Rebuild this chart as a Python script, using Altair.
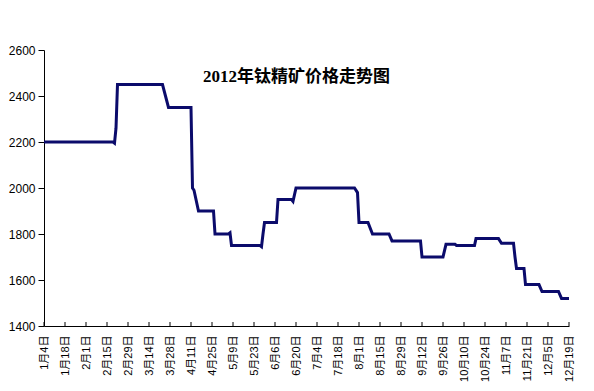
import altair as alt
import pandas as pd

# ---- data ----
dates = ["2012-01-04", "2012-02-19", "2012-02-20", "2012-02-21", "2012-02-22",
         "2012-03-23", "2012-03-27", "2012-04-11", "2012-04-12", "2012-04-13", "2012-04-16",
         "2012-04-26", "2012-04-27", "2012-05-06", "2012-05-07", "2012-05-08",
         "2012-05-27", "2012-05-28", "2012-05-29", "2012-05-30",
         "2012-06-07", "2012-06-08", "2012-06-17", "2012-06-18", "2012-06-20",
         "2012-07-29", "2012-07-31", "2012-08-01",
         "2012-08-07", "2012-08-10", "2012-08-21", "2012-08-23",
         "2012-09-11", "2012-09-12", "2012-09-26", "2012-09-28",
         "2012-10-04", "2012-10-05", "2012-10-17", "2012-10-18",
         "2012-11-02", "2012-11-04", "2012-11-12", "2012-11-13", "2012-11-14",
         "2012-11-19", "2012-11-20", "2012-11-29", "2012-12-01",
         "2012-12-12", "2012-12-14", "2012-12-19"]
prices = [2200, 2200, 2195, 2260, 2450,
          2450, 2350, 2350, 2000, 1990, 1900,
          1900, 1800, 1800, 1805, 1750,
          1750, 1745, 1800, 1850,
          1850, 1950, 1950, 1942, 2000,
          2000, 1980, 1850,
          1850, 1800, 1800, 1770,
          1770, 1700, 1700, 1755,
          1755, 1750, 1750, 1780,
          1780, 1760, 1760, 1700, 1650,
          1650, 1580, 1580, 1550,
          1550, 1520, 1520]

tick_dates = ["2012-01-04", "2012-01-18", "2012-02-01", "2012-02-15", "2012-02-29",
              "2012-03-14", "2012-03-28", "2012-04-11", "2012-04-25", "2012-05-09",
              "2012-05-23", "2012-06-06", "2012-06-20", "2012-07-04", "2012-07-18",
              "2012-08-01", "2012-08-15", "2012-08-29", "2012-09-12", "2012-09-26",
              "2012-10-10", "2012-10-24", "2012-11-07", "2012-11-21", "2012-12-05",
              "2012-12-19"]
y_ticks = [1400, 1600, 1800, 2000, 2200, 2400, 2600]
title_text = "2012年钛精矿价格走势图"

df = pd.DataFrame({"date": dates, "price": prices})
tick_df = pd.DataFrame({"date": tick_dates})


def dt(s):
    y, m, d = (int(v) for v in s.split("-"))
    return alt.DateTime(year=y, month=m, date=d, utc=True)


W, H = 525, 276
LABEL_FONT = "Liberation Sans, Noto Sans CJK SC"

x_scale = alt.Scale(type="utc", domain=[dt(tick_dates[0]), dt(tick_dates[-1])], nice=False)
y_scale = alt.Scale(domain=[1400, 2600], nice=False, zero=False)

x_axis = alt.Axis(values=[dt(s) for s in tick_dates],
                  labelExpr="(utcmonth(datum.value) + 1) + '月' + utcdate(datum.value) + '日'",
                  labelAngle=270, labelFont=LABEL_FONT, labelFontSize=11, labelColor="black",
                  labelPadding=9, labelFlush=False, labelOverlap=False,
                  ticks=False, tickSize=0, domainColor="black", domainWidth=1,
                  grid=False, title=None)
y_axis = alt.Axis(values=y_ticks, format="d", labelFont=LABEL_FONT, labelFontSize=12,
                  labelColor="black", labelPadding=3, tickSize=6, tickColor="black",
                  domainColor="black", domainWidth=1, grid=False, title=None,
                  labelFlush=False)

ticks = alt.Chart(tick_df).mark_rule(color="black", strokeWidth=1).encode(
    x=alt.X("date:T", scale=x_scale, axis=x_axis),
    y=alt.value(H),
    y2=alt.value(H - 4),
)

line = alt.Chart(df).mark_line(color="#0b0b6b", strokeWidth=3).encode(
    x=alt.X("date:T", scale=x_scale, axis=x_axis),
    y=alt.Y("price:Q", scale=y_scale, axis=y_axis),
)

chart = alt.layer(ticks, line).properties(
    width=W, height=H,
    title=alt.TitleParams(text=title_text, font="Liberation Serif, Noto Sans CJK SC",
                          fontSize=17, fontWeight="bold", color="black",
                          anchor="middle", frame="group", baseline="alphabetic",
                          offset=0, dy=55, dx=-10),
    autosize=alt.AutoSizeParams(type="none"),
    padding={"left": 36, "top": 42, "right": 15, "bottom": 57},
    background="white",
).configure_view(stroke=None)

chart.save("out.html", embed_options={"renderer": "svg", "actions": False})
